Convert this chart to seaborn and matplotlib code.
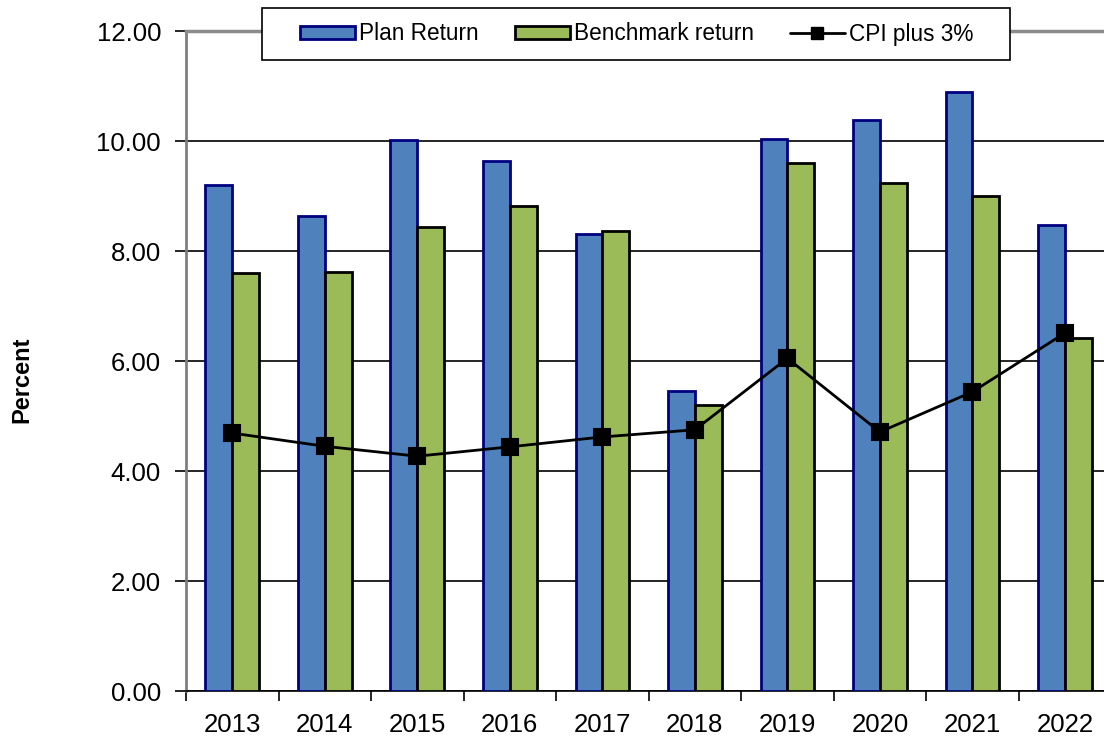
import pandas as pd
import matplotlib.pyplot as plt
import seaborn as sns
from matplotlib.ticker import FormatStrFormatter, FixedLocator
from matplotlib.patches import Patch, Rectangle
from matplotlib.lines import Line2D

# Values
years = ['2013', '2014', '2015', '2016', '2017', '2018', '2019', '2020', '2021', '2022']
plan_return = [9.20, 8.64, 10.02, 9.64, 8.31, 5.45, 10.04, 10.38, 10.89, 8.47]
benchmark_return = [7.60, 7.62, 8.44, 8.82, 8.36, 5.20, 9.60, 9.24, 9.00, 6.42]
cpi_plus_3 = [4.69, 4.45, 4.27, 4.44, 4.62, 4.75, 6.05, 4.71, 5.44, 6.51]

series_names = ['Plan Return', 'Benchmark return']
bar_colors = ['#4F81BD', '#9BBB59']
edge_colors = ['#000080', '#000000']

df = pd.DataFrame({
    'Year': years * 2,
    'Value': plan_return + benchmark_return,
    'Series': [series_names[0]] * len(years) + [series_names[1]] * len(years),
})

sns.set_style('white')
plt.rcParams['font.family'] = ['Liberation Sans', 'DejaVu Sans']
plt.rcParams['text.color'] = 'black'
plt.rcParams['xtick.color'] = 'black'
plt.rcParams['ytick.color'] = 'black'

fig = plt.figure(figsize=(11.04, 7.36), dpi=100)
ax = fig.add_axes([0.1685, 0.0611, 0.838, 0.8967])

sns.barplot(data=df, x='Year', y='Value', hue='Series', palette=bar_colors, saturation=1,
            width=0.58, gap=0, legend=False, ax=ax, zorder=3)
for cont, ec in zip(ax.containers, edge_colors):
    for bar in cont:
        bar.set_edgecolor(ec)
        bar.set_linewidth(2)

sns.pointplot(x=years, y=cpi_plus_3, color='black', markers='s', linestyles='-',
              markersize=11, linewidth=2, ax=ax, zorder=5)

ax.set_xlim(-0.5, 9.5)
ax.set_ylim(0, 12)
ax.yaxis.set_major_locator(FixedLocator([0, 2, 4, 6, 8, 10, 12]))
ax.yaxis.set_major_formatter(FormatStrFormatter('%.2f'))
ax.yaxis.grid(True, color='black', linewidth=1.2, zorder=0)
ax.set_axisbelow(True)

ax.xaxis.set_minor_locator(FixedLocator([i - 0.5 for i in range(11)]))
ax.tick_params(axis='x', which='major', length=0, labelsize=18.5, pad=16)
ax.tick_params(axis='x', which='minor', length=7, width=1.2, color='black', direction='out', bottom=True)
ax.tick_params(axis='y', which='major', length=8, width=1.2, color='black', direction='out', left=True,
               labelsize=18.5, pad=10)

ax.set_xlabel('')
ax.set_ylabel('')
fig.text(22 / 1104, 1 - 380 / 736, 'Percent', rotation=90, ha='center', va='center',
         fontsize=17, fontweight='bold')

ax.spines['right'].set_visible(False)
ax.spines['left'].set_color('#7f7f7f')
ax.spines['left'].set_linewidth(2)
ax.spines['top'].set_color('#8c8c8c')
ax.spines['top'].set_linewidth(2.5)
ax.spines['bottom'].set_color('black')
ax.spines['bottom'].set_linewidth(1.2)

# legend box drawn separately so the wide side padding matches
box = Rectangle((262 / 1104, 1 - 60 / 736), 748 / 1104, 52 / 736, transform=fig.transFigure,
                facecolor='white', edgecolor='black', linewidth=1.2, zorder=9)
fig.add_artist(box)

handles = [
    Patch(facecolor=bar_colors[0], edgecolor=edge_colors[0], linewidth=2, label=series_names[0]),
    Patch(facecolor=bar_colors[1], edgecolor=edge_colors[1], linewidth=2, label=series_names[1]),
    Line2D([0], [0], color='black', marker='s', markersize=8, linewidth=2, label='CPI plus 3%'),
]
leg = fig.legend(handles=handles, loc='center', bbox_to_anchor=(637 / 1104, 1 - 34 / 736), ncol=3,
                 fontsize=16.3, frameon=False, borderpad=0, columnspacing=1.6,
                 handlelength=2.4, handleheight=0.5, handletextpad=0.2, borderaxespad=0)
leg.set_zorder(10)

fig.savefig('out.png', dpi=100)
